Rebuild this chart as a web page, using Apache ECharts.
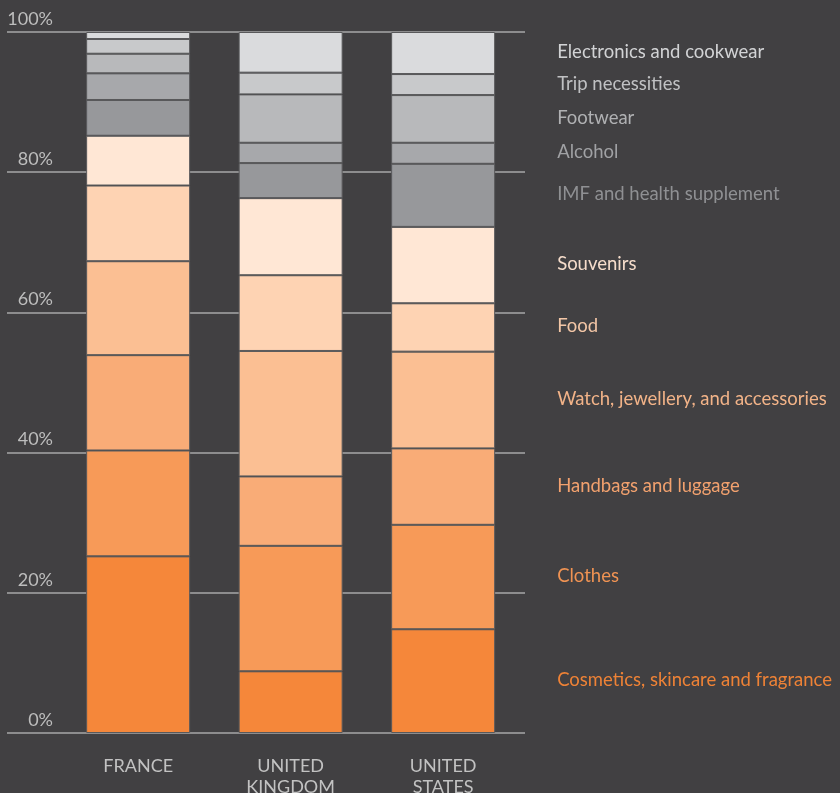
<!DOCTYPE html>
<html>
<head>
<meta charset="utf-8">
<script src="https://cdn.jsdelivr.net/npm/echarts@6/dist/echarts.min.js"></script>
<style>
html,body{margin:0;padding:0;background:#414042;overflow:hidden;}
#chart{width:840px;height:793px;}
</style>
</head>
<body>
<div id="chart"></div>
<script>
var categories = ['FRANCE', 'UNITED\nKINGDOM', 'UNITED\nSTATES'];
var segmentNames = ['Cosmetics, skincare and fragrance', 'Clothes', 'Handbags and luggage',
  'Watch, jewellery, and accessories', 'Food', 'Souvenirs', 'IMF and health supplement',
  'Alcohol', 'Footwear', 'Trip necessities', 'Electronics and cookwear'];
var france = [25.2, 15.1, 13.6, 13.4, 10.8, 7.1, 5.1, 3.8, 2.8, 2.1, 1.0];
var unitedKingdom = [8.8, 17.9, 9.9, 17.9, 10.8, 11.0, 5.0, 2.9, 6.9, 3.1, 5.8];
var unitedStates = [14.8, 14.9, 10.9, 13.8, 6.9, 10.9, 9.0, 3.0, 6.8, 3.0, 6.0];
var yTicks = [0, 20, 40, 60, 80, 100];
var segmentColors = ['#F5873A', '#F79A58', '#F9AC77', '#FBBF93', '#FED3B3', '#FFE7D5',
  '#97989B', '#A7A8AB', '#B8B9BB', '#C8C9CB', '#DADBDD'];
var labelColors = ['#EE8236', '#F09353', '#F2A16E', '#F2B388', '#F3C6A6', '#F6DDCB',
  '#8F9093', '#A0A1A4', '#B0B1B3', '#C0C1C3', '#D2D3D5'];

var FONT = 'Lato, "Open Sans", sans-serif';
var chart = echarts.init(document.getElementById('chart'));

var series = segmentNames.map(function (name, i) {
  return {
    name: name,
    type: 'bar',
    stack: 'total',
    xAxisIndex: 1,
    yAxisIndex: 1,
    barWidth: 104,
    itemStyle: { color: segmentColors[i], borderColor: '#59595b', borderWidth: 1 },
    emphasis: { disabled: true },
    data: [
      france[i],
      unitedKingdom[i],
      {
        value: unitedStates[i],
        label: {
          show: true,
          position: 'right',
          distance: 62,
          offset: [0, -1],
          formatter: name,
          color: labelColors[i],
          fontFamily: FONT,
          fontSize: 18.5
        }
      }
    ]
  };
});

var option = {
  backgroundColor: '#414042',
  animation: false,
  grid: [
    { left: 7, right: 315, top: 32, bottom: 60, outerBoundsMode: 'none', containLabel: false },
    { left: 61.9, width: 457.5, top: 32, bottom: 60, outerBoundsMode: 'none', containLabel: false }
  ],
  xAxis: [
    { gridIndex: 0, type: 'value', show: false, min: 0, max: 1 },
    {
      gridIndex: 1, type: 'category', data: categories,
      axisLine: { show: false }, axisTick: { show: false },
      axisLabel: { color: '#c2c2c2', fontFamily: FONT, fontSize: 18, lineHeight: 20.5, margin: 23 }
    }
  ],
  yAxis: [
    {
      gridIndex: 0, type: 'value', min: 0, max: 100, interval: 20,
      axisLine: { show: false }, axisTick: { show: false },
      splitLine: { show: true, lineStyle: { color: '#a7a7a8', width: 1.5 } },
      axisLabel: {
        inside: true, margin: 46, align: 'right', verticalAlign: 'bottom',
        padding: [0, 0, 4, 0],
        color: '#bdbdbd', fontFamily: FONT, fontSize: 18,
        formatter: function (v) { return yTicks.indexOf(v) >= 0 ? v + '%' : ''; }
      }
    },
    { gridIndex: 1, type: 'value', min: 0, max: 100, show: false }
  ],
  series: series.concat([{
    type: 'scatter', xAxisIndex: 0, yAxisIndex: 0, data: [], silent: true
  }])
};
chart.setOption(option);
</script>
</body>
</html>
